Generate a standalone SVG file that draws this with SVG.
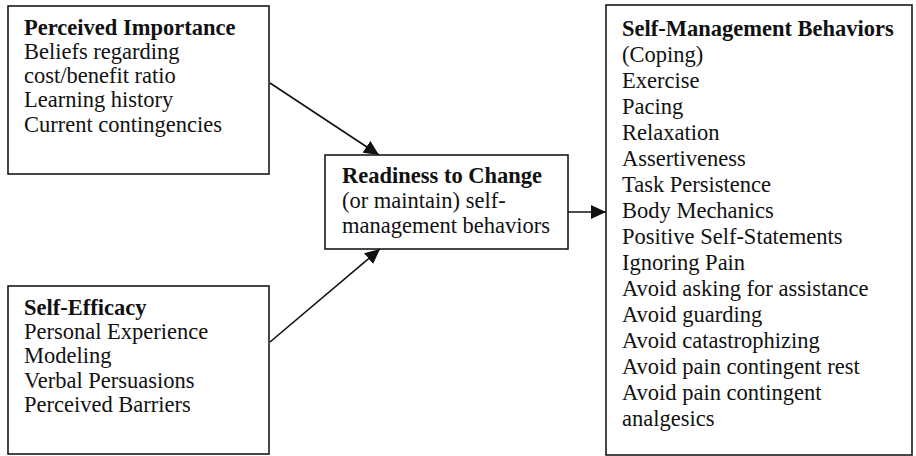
<svg xmlns="http://www.w3.org/2000/svg" width="916" height="456" viewBox="0 0 916 456">
<style>
.box{fill:#fff;stroke:#1a1a1a;stroke-width:1.6}
.t{font-family:"Liberation Serif","Times New Roman",serif;font-size:22.5px;fill:#111}
.b{font-weight:bold}
.c{stroke:#111;stroke-width:1.6;fill:none}
</style>
<defs>
<marker id="ah" markerUnits="userSpaceOnUse" markerWidth="16" markerHeight="14" refX="15" refY="7" orient="auto">
<path d="M0,0 L15,7 L0,14 Z" fill="#111"/>
</marker>
</defs>
<rect width="916" height="456" fill="#fff"/>
<g id="connectors">
<line class="c" x1="270" y1="83" x2="379" y2="155" marker-end="url(#ah)"/>
<line class="c" x1="270" y1="342" x2="380" y2="249" marker-end="url(#ah)"/>
<line class="c" x1="568" y1="212" x2="606" y2="212" marker-end="url(#ah)"/>
</g>
<g id="perceived-importance">
<rect class="box" x="8" y="6" width="261" height="168"/>
<text class="t b" x="24" y="35">Perceived Importance</text>
<text class="t" x="24" y="59">Beliefs regarding</text>
<text class="t" x="24" y="83">cost/benefit ratio</text>
<text class="t" x="24" y="107">Learning history</text>
<text class="t" x="24" y="132">Current contingencies</text>
</g>
<g id="self-efficacy">
<rect class="box" x="8" y="286" width="261" height="168"/>
<text class="t b" x="24" y="315">Self-Efficacy</text>
<text class="t" x="24" y="339">Personal Experience</text>
<text class="t" x="24" y="363">Modeling</text>
<text class="t" x="24" y="388">Verbal Persuasions</text>
<text class="t" x="24" y="412">Perceived Barriers</text>
</g>
<g id="readiness">
<rect class="box" x="325" y="155" width="243" height="94"/>
<text class="t b" x="342" y="183">Readiness to Change</text>
<text class="t" x="342" y="208">(or maintain) self-</text>
<text class="t" x="342" y="233">management behaviors</text>
</g>
<g id="self-management">
<rect class="box" x="606" y="5" width="306" height="450"/>
<text class="t b" x="622" y="36">Self-Management Behaviors</text>
<text class="t" x="622" y="62">(Coping)</text>
<text class="t" x="622" y="88">Exercise</text>
<text class="t" x="622" y="114">Pacing</text>
<text class="t" x="622" y="140">Relaxation</text>
<text class="t" x="622" y="166">Assertiveness</text>
<text class="t" x="622" y="192">Task Persistence</text>
<text class="t" x="622" y="218">Body Mechanics</text>
<text class="t" x="622" y="244">Positive Self-Statements</text>
<text class="t" x="622" y="270">Ignoring Pain</text>
<text class="t" x="622" y="296">Avoid asking for assistance</text>
<text class="t" x="622" y="322">Avoid guarding</text>
<text class="t" x="622" y="348">Avoid catastrophizing</text>
<text class="t" x="622" y="374">Avoid pain contingent rest</text>
<text class="t" x="622" y="400">Avoid pain contingent</text>
<text class="t" x="622" y="426">analgesics</text>
</g>
</svg>
